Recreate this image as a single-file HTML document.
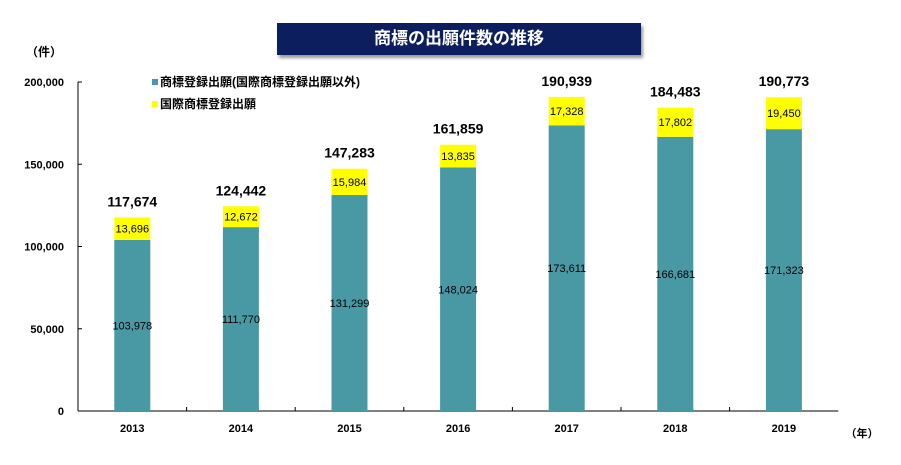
<!DOCTYPE html>
<html><head><meta charset="utf-8"><style>
body{margin:0;background:#fff;width:901px;height:465px;overflow:hidden;font-family:"Liberation Sans","Noto Sans CJK JP",sans-serif}
#title{position:absolute;left:277px;top:23px;width:364px;height:32px;background:#0c1e5e;color:#fff;font-weight:bold;font-size:17px;line-height:32px;text-align:center;box-shadow:2px 3px 3px #999}
</style></head><body>
<div id="title">商標の出願件数の推移</div>
<svg id="chart" width="901" height="465" style="position:absolute;left:0;top:0"></svg>
<script>
const categories=["2013","2014","2015","2016","2017","2018","2019"];
const domestic=[103978,111770,131299,148024,173611,166681,171323];
const intl=[13696,12672,15984,13835,17328,17802,19450];
const totals=[117674,124442,147283,161859,190939,184483,190773];
const yTicks=[0,50000,100000,150000,200000];
const NS="http://www.w3.org/2000/svg";
const svg=document.getElementById('chart');
const x0=78,cw=108.6,y0=411,yTop=82,bw=36;
const y=v=>y0-(v/200000)*(y0-yTop);
const fmt=v=>v.toLocaleString('en-US');
function mk(t,a,txt){const e=document.createElementNS(NS,t);for(const k in a)e.setAttribute(k,a[k]);if(txt!==undefined)e.textContent=txt;svg.appendChild(e);return e;}
let e;
e=mk('line',{x1:x0,y1:yTop,x2:x0,y2:y0,stroke:'#000'});


e=mk('line',{x1:x0,y1:y0,x2:x0+cw*7,y2:y0,stroke:'#000'});


yTicks.forEach(t=>{
 mk('line',{x1:x0,y1:y(t),x2:x0+4,y2:y(t),stroke:'#000'});
 e=mk('text',{x:64,y:y(t)+4,'text-anchor':'end','font-size':11,'font-weight':'bold'},fmt(t));
 
 
});
for(let i=1;i<7;i++)mk('line',{x1:x0+cw*i,y1:y0,x2:x0+cw*i,y2:y0-4,stroke:'#000'});
e=mk('text',{x:44,y:56,'text-anchor':'middle','font-size':12,'font-weight':'bold'},'（件）');


e=mk('text',{x:862,y:437,'text-anchor':'middle','font-size':11,'font-weight':'bold'},'（年）');


categories.forEach((c,i)=>{
 const cx=x0+cw*(i+0.5);
 e=mk('rect',{x:cx-bw/2,y:y(domestic[i]),width:bw,height:y0-y(domestic[i]),fill:'#4899a3'});
 
 
 e=mk('rect',{x:cx-bw/2,y:y(domestic[i]+intl[i]),width:bw,height:y(domestic[i])-y(domestic[i]+intl[i]),fill:'#ffff00'});
 
 
 e=mk('text',{x:cx,y:(y(domestic[i])+y0)/2+4,'text-anchor':'middle','font-size':11},fmt(domestic[i]));
 
 
 e=mk('text',{x:cx,y:(y(domestic[i])+y(domestic[i]+intl[i]))/2+4,'text-anchor':'middle','font-size':11},fmt(intl[i]));
 
 
 e=mk('text',{x:cx,y:y(totals[i])-11,'text-anchor':'middle','font-size':14,'font-weight':'bold'},fmt(totals[i]));
 
 
 e=mk('text',{x:cx,y:432,'text-anchor':'middle','font-size':11,'font-weight':'bold'},c);
 
 
});
e=mk('rect',{x:152,y:79,width:6,height:6,fill:'#4899a3'});


e=mk('text',{x:160,y:86,'font-size':12,'font-weight':'bold'},'商標登録出願(国際商標登録出願以外)');


e=mk('rect',{x:152,y:101,width:6,height:6,fill:'#ffff00'});


e=mk('text',{x:160,y:108,'font-size':12,'font-weight':'bold'},'国際商標登録出願');


</script>
</body></html>
